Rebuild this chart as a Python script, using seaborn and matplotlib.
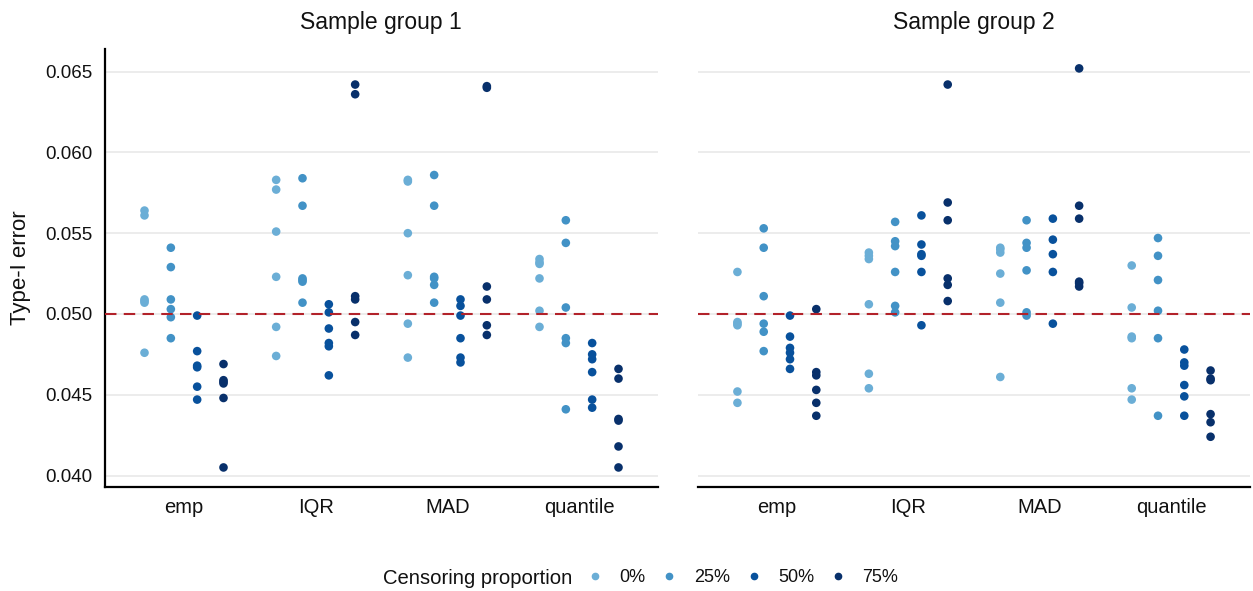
import numpy as np
import pandas as pd
import matplotlib
matplotlib.use("Agg")
import matplotlib.pyplot as plt
import seaborn as sns
from matplotlib.lines import Line2D

# ---------------- data ----------------
methods = ["emp", "IQR", "MAD", "quantile"]
censoring = ["0%", "25%", "50%", "75%"]
groups = ["Sample group 1", "Sample group 2"]

# each list: [0%, 25%, 50%, 75%] censoring
g1_emp = [
    [0.0564, 0.0561, 0.0509, 0.0508, 0.0507, 0.0476],
    [0.0541, 0.0529, 0.0509, 0.0503, 0.0498, 0.0485],
    [0.0499, 0.0477, 0.0468, 0.0467, 0.0455, 0.0447],
    [0.0469, 0.0459, 0.0458, 0.0457, 0.0448, 0.0405],
]
g1_iqr = [
    [0.0583, 0.0577, 0.0551, 0.0523, 0.0492, 0.0474],
    [0.0584, 0.0567, 0.0522, 0.0521, 0.0520, 0.0507],
    [0.0506, 0.0501, 0.0491, 0.0482, 0.0480, 0.0462],
    [0.0642, 0.0636, 0.0511, 0.0509, 0.0495, 0.0487],
]
g1_mad = [
    [0.0583, 0.0582, 0.0550, 0.0524, 0.0494, 0.0473],
    [0.0586, 0.0567, 0.0523, 0.0522, 0.0518, 0.0507],
    [0.0509, 0.0505, 0.0499, 0.0485, 0.0473, 0.0470],
    [0.0641, 0.0640, 0.0517, 0.0509, 0.0493, 0.0487],
]
g1_quant = [
    [0.0534, 0.0532, 0.0531, 0.0522, 0.0502, 0.0492],
    [0.0558, 0.0544, 0.0504, 0.0485, 0.0482, 0.0441],
    [0.0482, 0.0475, 0.0472, 0.0464, 0.0447, 0.0442],
    [0.0466, 0.0460, 0.0435, 0.0434, 0.0418, 0.0405],
]
g2_emp = [
    [0.0526, 0.0495, 0.0494, 0.0493, 0.0452, 0.0445],
    [0.0553, 0.0541, 0.0511, 0.0494, 0.0489, 0.0477],
    [0.0499, 0.0486, 0.0479, 0.0476, 0.0472, 0.0466],
    [0.0503, 0.0464, 0.0462, 0.0453, 0.0445, 0.0437],
]
g2_iqr = [
    [0.0538, 0.0536, 0.0534, 0.0506, 0.0463, 0.0454],
    [0.0557, 0.0545, 0.0542, 0.0526, 0.0505, 0.0501],
    [0.0561, 0.0543, 0.0537, 0.0536, 0.0526, 0.0493],
    [0.0642, 0.0569, 0.0558, 0.0522, 0.0518, 0.0508],
]
g2_mad = [
    [0.0541, 0.0540, 0.0538, 0.0525, 0.0507, 0.0461],
    [0.0558, 0.0544, 0.0541, 0.0527, 0.0501, 0.0499],
    [0.0559, 0.0546, 0.0537, 0.0526, 0.0494],
    [0.0652, 0.0567, 0.0559, 0.0520, 0.0519, 0.0517],
]
g2_quant = [
    [0.0530, 0.0504, 0.0486, 0.0485, 0.0454, 0.0447],
    [0.0547, 0.0536, 0.0521, 0.0502, 0.0485, 0.0437],
    [0.0478, 0.0470, 0.0468, 0.0456, 0.0449, 0.0437],
    [0.0465, 0.0460, 0.0459, 0.0438, 0.0433, 0.0424],
]
yticks = [0.040, 0.045, 0.050, 0.055, 0.060, 0.065]
reference_level = 0.05

group_data = {
    "Sample group 1": [g1_emp, g1_iqr, g1_mad, g1_quant],
    "Sample group 2": [g2_emp, g2_iqr, g2_mad, g2_quant],
}
rows = []
for g, per_method in group_data.items():
    for m, per_cens in zip(methods, per_method):
        for c, vals in zip(censoring, per_cens):
            for v in vals:
                rows.append({"group": g, "method": m, "censoring": c, "error": v})
df = pd.DataFrame(rows)

# ---------------- style ----------------
sns.set_theme(style="white")
plt.rcParams["font.family"] = ["Liberation Sans", "DejaVu Sans"]

palette = {"0%": "#6BAED6", "25%": "#4292C6", "50%": "#08519C", "75%": "#08306B"}

W, H = 1253, 591
fig = plt.figure(figsize=(W / 100, H / 100), dpi=100)
fig.patch.set_facecolor("white")

def px_axes(x0, x1, y0, y1):
    return fig.add_axes([x0 / W, 1 - y1 / H, (x1 - x0) / W, (y1 - y0) / H])

ax1 = px_axes(105, 658, 49, 487)
ax2 = px_axes(698, 1250, 49, 487)

ylo, yhi = 0.03929, 0.0664
for ax, g in zip([ax1, ax2], groups):
    sub = df[df["group"] == g]
    for yt in yticks:
        ax.axhline(yt, color="#EBEBEB", lw=1.3, zorder=0)
    sns.stripplot(data=sub, x="method", y="error", hue="censoring",
                  order=methods, hue_order=censoring, palette=palette,
                  dodge=True, jitter=False, size=6.2, linewidth=0,
                  ax=ax, legend=False, zorder=3)
    ax.axhline(reference_level, color="#B2222A", lw=1.5, ls=(0, (5.5, 3.5)), zorder=4)
    ax.set_xlim(-0.6, 3.6)
    ax.set_ylim(ylo, yhi)
    ax.set_yticks(yticks)
    ax.set_xlabel("")
    ax.set_ylabel("")
    ax.grid(False)
    ax.tick_params(axis="both", length=0, colors="#111111")
    ax.tick_params(axis="x", pad=8, labelsize=14.5)
    ax.tick_params(axis="y", pad=9, labelsize=13.5)
    for s in ["top", "right"]:
        ax.spines[s].set_visible(False)
    ax.spines["bottom"].set_color("black")
    ax.spines["bottom"].set_linewidth(1.6)
    ax.spines["left"].set_color("black")
    ax.spines["left"].set_linewidth(1.6)

ax1.set_yticklabels([f"{v:.3f}" for v in yticks])
ax2.set_yticklabels([])
ax2.spines["left"].set_visible(False)

fig.text(381 / W, 1 - 22 / H, groups[0], ha="center", va="center", fontsize=16.5, color="#111111")
fig.text(974 / W, 1 - 22 / H, groups[1], ha="center", va="center", fontsize=16.5, color="#111111")
fig.text(21 / W, 1 - 268 / H, "Type-I error", rotation=90, ha="center", va="center",
         fontsize=16, color="#111111")

# legend
fig.text(383 / W, 1 - 578 / H, "Censoring proportion", ha="left", va="center",
         fontsize=14.6, color="#111111")
handles = [Line2D([], [], marker="o", ls="none", color=palette[c], markersize=4.5) for c in censoring]
fig.legend(handles, censoring, ncol=4, loc="center left",
           bbox_to_anchor=(586 / W, 1 - 578 / H), frameon=False,
           fontsize=13, handlelength=1.0, handletextpad=0.85,
           columnspacing=0.82, borderpad=0, borderaxespad=0,
           labelcolor="#111111")

fig.savefig("out.png", dpi=100, facecolor="white")
